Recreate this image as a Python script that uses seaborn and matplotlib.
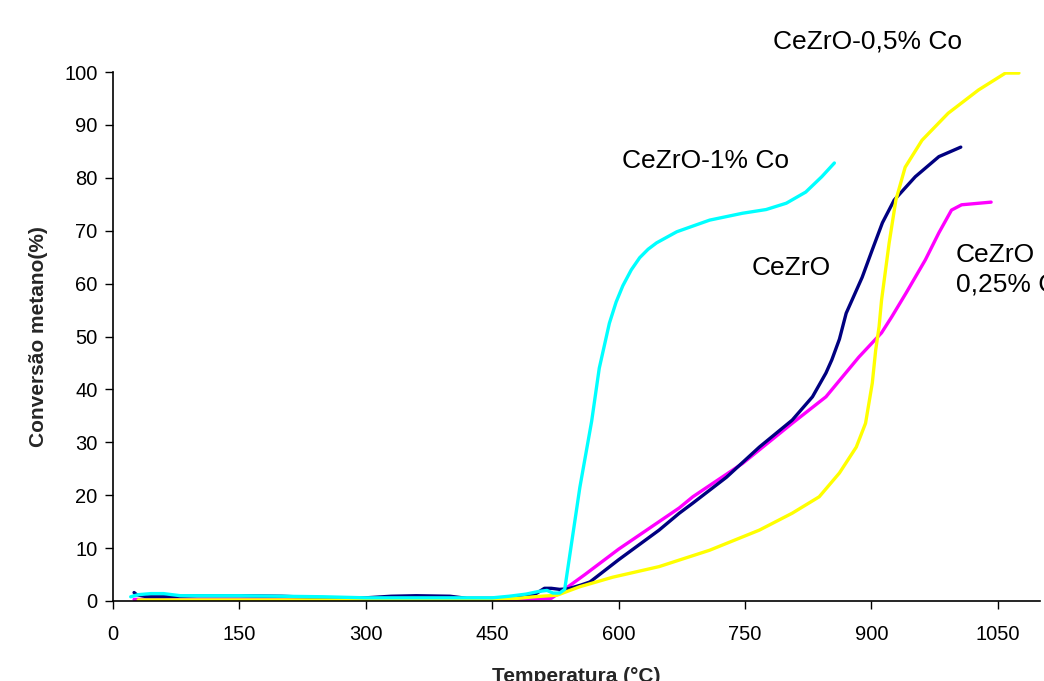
import numpy as np
import pandas as pd
import matplotlib
matplotlib.use("Agg")
import matplotlib.pyplot as plt
import seaborn as sns

# ---- data ----
cezro_x = [25, 28, 40, 60, 100, 150, 200, 250, 300, 330, 360, 400, 420, 450, 480, 500, 512,
           520, 530, 540, 555, 566, 600, 648, 672, 688, 728, 767, 806, 830, 846, 853, 862,
           870, 877, 889, 901, 913, 927, 952, 980, 1006]
cezro_y = [1.6, 1.2, 0.8, 0.8, 1.0, 1.0, 0.9, 0.6, 0.6, 0.9, 1.0, 0.9, 0.5, 0.5, 0.7, 1.2, 2.4,
           2.4, 2.2, 2.3, 3.0, 3.6, 7.8, 13.4, 16.6, 18.5, 23.4, 29.1, 34.2, 38.6, 43.1, 45.6, 49.5,
           54.4, 56.9, 61.2, 66.4, 71.5, 75.8, 80.2, 84.0, 85.8]

co1_x = [21, 30, 45, 60, 80, 100, 150, 200, 250, 300, 350, 400, 450, 470, 490, 505, 515, 522,
         530, 536, 554, 568, 577, 589, 597, 605, 615, 625, 635, 645, 669, 708, 747, 775, 799,
         822, 841, 856]
co1_y = [0.8, 1.2, 1.4, 1.4, 1.0, 1.0, 1.0, 0.9, 0.8, 0.6, 0.6, 0.6, 0.6, 0.9, 1.3, 1.8, 2.0, 1.5,
         1.5, 2.2, 21.5, 34.0, 44.0, 52.5, 56.5, 59.6, 62.6, 64.9, 66.5, 67.7, 69.8, 72.0, 73.3,
         74.0, 75.2, 77.3, 80.2, 82.8]

co025_x = [25, 100, 200, 300, 400, 450, 500, 520, 534, 560, 600, 648, 672, 688, 747, 806, 846,
           885, 912, 924, 941, 964, 980, 995, 1007, 1042]
co025_y = [0.3, 0.3, 0.3, 0.3, 0.3, 0.3, 0.4, 0.5, 2.0, 5.0, 9.8, 15.0, 17.6, 19.7, 26.0, 33.6,
           38.6, 46.1, 50.7, 53.7, 58.2, 64.5, 69.6, 73.9, 74.9, 75.4]

co05_x = [30, 100, 200, 300, 400, 450, 480, 500, 527, 554, 593, 648, 708, 767, 806, 838, 862,
          882, 893, 901, 905, 909, 912, 921, 929, 940, 960, 991, 1027, 1059, 1075]
co05_y = [0.2, 0.2, 0.2, 0.2, 0.2, 0.3, 0.5, 0.8, 1.1, 2.7, 4.5, 6.5, 9.6, 13.4, 16.6, 19.7, 24.2,
          29.1, 33.6, 41.2, 47.4, 51.8, 56.9, 67.7, 75.8, 82.0, 87.1, 92.2, 96.6, 99.8, 99.8]

series_names = ["CeZrO 0,25% Co", "CeZrO", "CeZrO-0,5% Co", "CeZrO-1% Co"]
series_x = [co025_x, cezro_x, co05_x, co1_x]
series_y = [co025_y, cezro_y, co05_y, co1_y]
colors = ["#FF00FF", "#000080", "#FFFF00", "#00FFFF"]

x_ticks = [0, 150, 300, 450, 600, 750, 900, 1050]
y_ticks = list(range(0, 101, 10))

frames = []
for name, xs, ys in zip(series_names, series_x, series_y):
    frames.append(pd.DataFrame({"serie": name, "T": xs, "conv": ys}))
df = pd.concat(frames, ignore_index=True)

sns.set_theme(style="white")
plt.rcParams["font.family"] = ["Liberation Sans", "DejaVu Sans"]

fig = plt.figure(figsize=(10.44, 6.81), dpi=100)
ax = fig.add_axes([113 / 1044, 1 - 601 / 681, (1040 - 113) / 1044, (601 - 72) / 681])

sns.lineplot(data=df, x="T", y="conv", hue="serie", hue_order=series_names,
             palette=dict(zip(series_names, colors)), estimator=None, sort=False,
             units="serie", linewidth=2.4, legend=False, ax=ax)
for ln in ax.get_lines():
    ln.set_solid_joinstyle("round")

ax.set_xlim(0, 1100)
ax.set_ylim(0, 100)
ax.set_xticks(x_ticks)
ax.set_yticks(y_ticks)
ax.tick_params(axis="both", direction="out", length=5.5, width=1, color="black",
               labelsize=14.5, labelcolor="black", bottom=True, left=True)
ax.tick_params(axis="x", pad=12)
ax.tick_params(axis="y", pad=5.5)
for s in ["top", "right"]:
    ax.spines[s].set_visible(False)
for s in ["left", "bottom"]:
    ax.spines[s].set_color("black")
    ax.spines[s].set_linewidth(1.2)

ax.set_xlabel("Temperatura (°C)", fontsize=15, fontweight="bold", labelpad=16)
ax.set_ylabel("Conversão metano(%)", fontsize=15, fontweight="bold", labelpad=12)

ann_kw = dict(fontsize=19, color="black", clip_on=False)
ax.text(895, 105.7, "CeZrO-0,5% Co", ha="center", va="center", **ann_kw)
ax.text(703, 83.2, "CeZrO-1% Co", ha="center", va="center", **ann_kw)
ax.text(805, 63.0, "CeZrO", ha="center", va="center", **ann_kw)
ax.text(1000, 62.6, "CeZrO\n0,25% Co", ha="left", va="center", linespacing=1.25, **ann_kw)

fig.savefig("out.png", dpi=100)
